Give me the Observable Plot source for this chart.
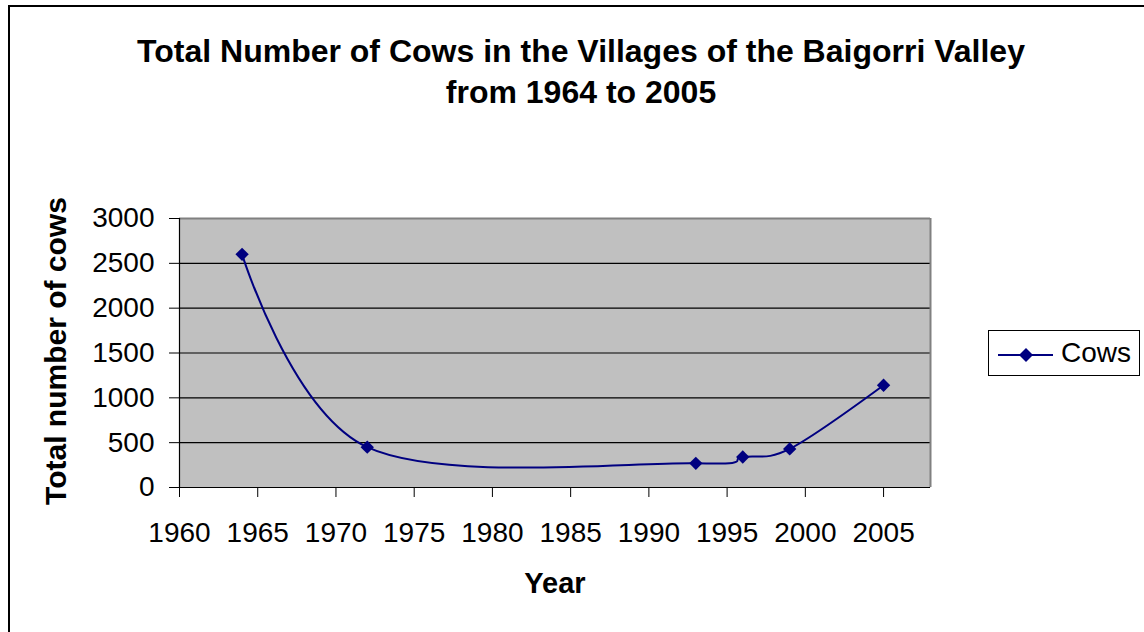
<!DOCTYPE html>
<html>
<head>
<meta charset="utf-8">
<script src="https://cdn.jsdelivr.net/npm/d3@7"></script>
<script src="https://cdn.jsdelivr.net/npm/@observablehq/plot@0.6"></script>
<style>
  html, body { margin: 0; padding: 0; background: #fff; overflow: hidden; }
  body { width: 1144px; height: 632px; position: relative; font-family: "Liberation Sans", Arial, sans-serif; }
  #frame { position: absolute; left: 8px; top: 5px; width: 1200px; height: 700px; border: 2px solid #000; box-sizing: border-box; }
  #title { position: absolute; left: 0; top: 31px; width: 1162px; text-align: center; font-weight: bold; font-size: 32px; line-height: 41px; color: #000; }
  #chart { position: absolute; left: 0; top: 0; }
  #xlabel { position: absolute; left: 455px; width: 200px; top: 566px; text-align: center; font-weight: bold; font-size: 29px; line-height: 34px; }
  #ylabel { position: absolute; left: 56px; top: 351px; width: 400px; margin-left: -200px; margin-top: -17px; text-align: center; font-weight: bold; font-size: 30px; line-height: 34px; transform: rotate(-90deg); white-space: nowrap; }
  #legend { position: absolute; left: 988px; top: 330px; width: 152px; height: 46px; border: 1px solid #000; box-sizing: border-box; background: #fff; }
  #legend svg { position: absolute; left: 0; top: 0; }
  #legend span { position: absolute; left: 72px; top: 4px; font-size: 28px; line-height: 36px; }
</style>
</head>
<body>
<div id="frame"></div>
<div id="title">Total Number of Cows in the Villages of the Baigorri Valley<br>from 1964 to 2005</div>
<div id="chart"></div>
<div id="xlabel">Year</div>
<div id="ylabel">Total number of cows</div>
<div id="legend"></div>
<script>
// Data
const years = [1964, 1972, 1993, 1996, 1999, 2005];
const cows  = [2600, 450, 270, 340, 430, 1140];
const seriesName = "Cows";
const xTicks = [1960, 1965, 1970, 1975, 1980, 1985, 1990, 1995, 2000, 2005];
const yTicks = [0, 500, 1000, 1500, 2000, 2500, 3000];

const data = years.map((y, i) => ({year: y, cows: cows[i]}));
const navy = "#000080";

const chart = Plot.plot({
  width: 1144,
  height: 632,
  marginLeft: 179,
  marginRight: 214,
  marginTop: 218,
  marginBottom: 145,
  style: {fontFamily: "'Liberation Sans', Arial, sans-serif", background: "transparent", color: "#000"},
  x: {domain: [1960, 2008]},
  y: {domain: [0, 3000]},
  marks: [
    Plot.frame({fill: "#c0c0c0", stroke: "none"}),
    Plot.ruleY(yTicks.filter(d => d > 0 && d < 3000), {stroke: "#000", strokeWidth: 1.2}),
    Plot.ruleY([3000], {stroke: "#808080", strokeWidth: 2}),
    Plot.ruleX([2008], {stroke: "#808080", strokeWidth: 2}),
    Plot.ruleY([0], {stroke: "#000", strokeWidth: 1.2}),
    Plot.ruleX([1960], {stroke: "#000", strokeWidth: 1.2}),
    Plot.axisX({ticks: xTicks, tickFormat: d => String(d), tickSize: 10, tickPadding: 25, fontSize: 28, label: null, stroke: "#000"}),
    Plot.axisY({ticks: yTicks, tickFormat: d => String(d), tickSize: 10, tickPadding: 15, fontSize: 28, label: null, stroke: "#000"}),
    Plot.line(data, {x: "year", y: "cows", curve: "cardinal", stroke: navy, strokeWidth: 2}),
    Plot.dot(data, {x: "year", y: "cows", symbol: "diamond2", r: 6, fill: navy, stroke: "none"})
  ]
});
document.getElementById("chart").appendChild(chart);

// Legend
const legend = document.getElementById("legend");
legend.innerHTML = `<svg width="72" height="46"><line x1="9" x2="64" y1="24" y2="24" stroke="${navy}" stroke-width="2"/><path d="M37,17 L44,24 L37,31 L30,24 Z" fill="${navy}"/></svg><span>${seriesName}</span>`;
</script>
</body>
</html>
